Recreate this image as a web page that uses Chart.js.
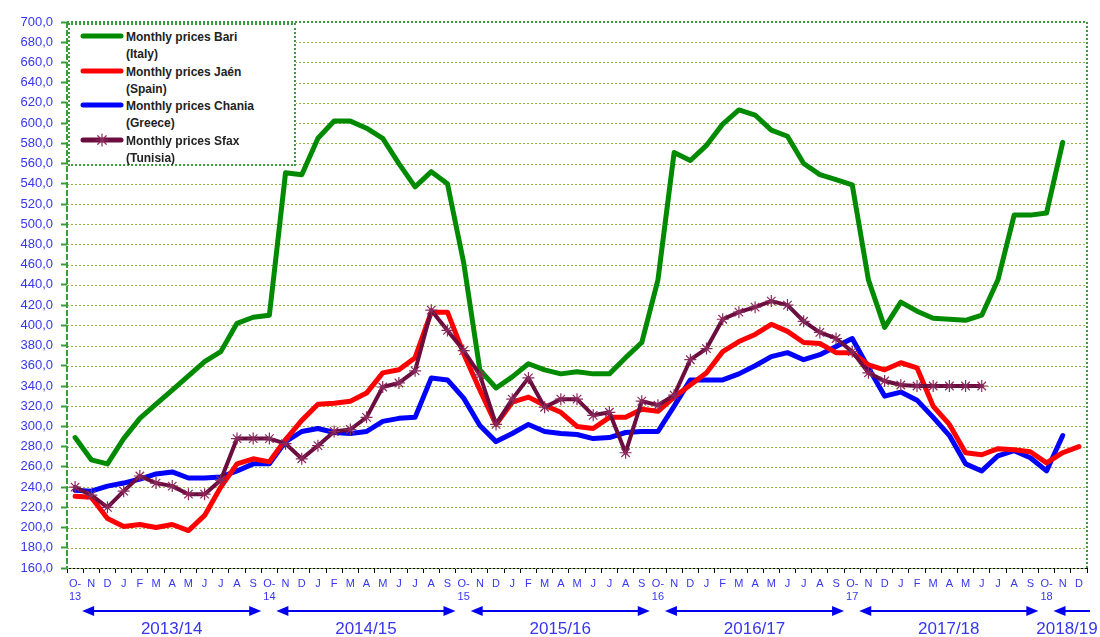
<!DOCTYPE html>
<html>
<head>
<meta charset="utf-8">
<script src="https://cdn.jsdelivr.net/npm/chart.js@4.4.1/dist/chart.umd.min.js"></script>
<style>
  html, body { margin: 0; padding: 0; background: #fff; }
  #wrap { position: relative; width: 1100px; height: 637px; }
  #legend {
    position: absolute; left: 68px; top: 23px; width: 224px; height: 139px;
    border: 2px dotted #3c9c3c; background: #fff;
    font-family: "Liberation Sans", Arial, sans-serif; font-weight: bold; font-size: 12px; color: #222;
  }
  .item { position: absolute; left: 0; width: 224px; height: 34px; }
  .item .txt { position: absolute; left: 56px; top: 4px; line-height: 17px; }
  .item canvas { position: absolute; left: 10px; top: 4px; }
</style>
</head>
<body>
<div id="wrap">
  <canvas id="chart" width="1100" height="637"></canvas>
  <div id="legend"></div>
</div>
<script>
const moisLettres = ['O', 'N', 'D', 'J', 'F', 'M', 'A', 'M', 'J', 'J', 'A', 'S'];
const annees = ['13', '14', '15', '16', '17', '18'];
const saisons = ['2013/14', '2014/15', '2015/16', '2016/17', '2017/18', '2018/19'];

// one category per month, Oct 2013 .. Dec 2018
const categories = [];
for (let i = 0; i < 63; i++) {
  const m = moisLettres[i % 12];
  categories.push(i % 12 === 0 ? ['O-', annees[i / 12]] : m);
}

const bari = [289, 267, 263, 288, 308, 322, 336, 350, 364, 374, 402, 408, 410,
  551, 549, 585, 602, 602, 595, 585, 560, 537, 552, 540,
  462, 356, 338, 349, 362, 356, 352, 354, 352, 352, 368, 383,
  445, 571, 563, 578, 599, 613, 608, 593, 587, 560, 549, 544,
  539, 445, 398, 423, 414, 407, 406, 405, 410, 445, 509, 509, 511, 581, null];

const jaen = [231, 230, 209, 201, 203, 200, 203, 197, 212, 240, 263, 268, 265,
  287, 306, 322, 323, 325, 333, 353, 356, 368, 413, 413,
  372, 336, 302, 324, 329, 321, 314, 300, 298, 309, 309, 317,
  315, 329, 341, 353, 374, 384, 391, 401, 394, 383, 382, 373,
  373, 361, 356, 363, 358, 320, 302, 274, 272, 278, 277, 275, 264, 274, 280];

const chania = [237, 236, 241, 244, 248, 253, 255, 249, 249, 250, 256, 263, 263,
  285, 295, 298, 294, 293, 295, 305, 308, 309, 348, 346,
  328, 301, 285, 293, 302, 295, 293, 292, 288, 289, 294, 295,
  295, 320, 346, 346, 346, 352, 360, 369, 373, 366, 371, 379,
  387, 358, 330, 334, 326, 309, 291, 263, 256, 271, 276, 269, 256, 291, null];

const sfax = [240, 232, 220, 236, 251, 244, 241, 233, 233, 247, 288, 288, 288,
  283, 268, 281, 295, 297, 309, 339, 343, 355, 415, 395,
  375, 351, 302, 327, 348, 319, 327, 327, 311, 314, 274, 325,
  321, 331, 366, 377, 406, 413, 418, 424, 420, 404, 393, 387,
  374, 353, 345, 341, 340, 340, 340, 340, 340, null, null, null, null, null, null];

const series = [
  { label: 'Monthly prices Bari', pays: '(Italy)', data: bari, color: '#008a00', order: 3 },
  { label: 'Monthly prices Jaén', pays: '(Spain)', data: jaen, color: '#ff0000', order: 1 },
  { label: 'Monthly prices Chania', pays: '(Greece)', data: chania, color: '#0000ff', order: 2 },
  { label: 'Monthly prices Sfax', pays: '(Tunisia)', data: sfax, color: '#6b0d3f', order: 0, star: true }
];

const BLEU = '#3636f0';

// dotted horizontal grid, drawn under the lines
const grille = {
  id: 'grille',
  beforeDatasetsDraw(chart) {
    const { ctx, chartArea: a, scales: { y } } = chart;
    ctx.save();
    ctx.strokeStyle = '#93b04a';
    ctx.lineWidth = 1;
    ctx.setLineDash([2, 2]);
    y.ticks.forEach(t => {
      const py = Math.round(y.getPixelForValue(t.value)) + 0.5;
      ctx.beginPath(); ctx.moveTo(a.left, py); ctx.lineTo(a.right, py); ctx.stroke();
    });
    ctx.restore();
  }
};

const cadre = {
  id: 'cadre',
  afterDraw(chart) {
    const { ctx, chartArea: a, scales: { x } } = chart;
    ctx.save();
    // frame
    ctx.strokeStyle = '#3c9c3c';
    ctx.lineWidth = 2;
    ctx.setLineDash([2, 2]);
    ctx.beginPath();
    ctx.moveTo(a.left, a.top); ctx.lineTo(a.right, a.top); ctx.lineTo(a.right, a.bottom);
    ctx.stroke();
    ctx.setLineDash([6, 2]);
    ctx.beginPath();
    ctx.moveTo(a.left, a.top); ctx.lineTo(a.left, a.bottom);
    ctx.stroke();
    ctx.setLineDash([]);
    // season arrows
    ctx.strokeStyle = '#0000ee';
    ctx.fillStyle = '#0000ee';
    ctx.lineWidth = 2;
    const yA = 611;
    saisons.forEach((s, k) => {
      const x1 = x.getPixelForValue(k * 12) + 7;
      const x2 = k < 5 ? x.getPixelForValue(k * 12 + 11) + 8 : 1090;
      ctx.beginPath(); ctx.moveTo(x1 + 6, yA); ctx.lineTo(x2 - (k < 5 ? 6 : 0), yA); ctx.stroke();
      ctx.beginPath(); ctx.moveTo(x1, yA); ctx.lineTo(x1 + 12, yA - 5); ctx.lineTo(x1 + 12, yA + 5); ctx.fill();
      if (k < 5) {
        ctx.beginPath(); ctx.moveTo(x2, yA); ctx.lineTo(x2 - 12, yA - 5); ctx.lineTo(x2 - 12, yA + 5); ctx.fill();
      }
      ctx.font = '17px "Liberation Sans", Arial, sans-serif';
      ctx.textAlign = 'center';
      ctx.textBaseline = 'middle';
      ctx.fillStyle = BLEU;
      ctx.fillText(s, k < 5 ? (x1 + x2) / 2 : 1067, 629);
      ctx.fillStyle = '#0000ee';
    });
    ctx.restore();
  }
};

const ctx = document.getElementById('chart').getContext('2d');
new Chart(ctx, {
  type: 'line',
  data: {
    labels: categories,
    datasets: series.map(s => ({
      label: s.label,
      data: s.data,
      borderColor: s.color,
      backgroundColor: s.color,
      borderWidth: s.star ? 4 : 5,
      borderJoinStyle: 'round',
      borderCapStyle: 'round',
      tension: 0,
      fill: false,
      order: s.order,
      pointStyle: s.star ? 'star' : 'circle',
      pointRadius: s.star ? 6 : 0,
      pointBorderColor: '#8a2a5c',
      pointBorderWidth: 1.2,
      pointHoverRadius: 0
    }))
  },
  options: {
    responsive: false,
    animation: false,
    layout: { padding: { top: 22, right: 13, left: 0, bottom: 0 } },
    plugins: { legend: { display: false }, tooltip: { enabled: false } },
    scales: {
      x: {
        offset: true,
        afterFit: sc => { sc.height = 69; },
        grid: { drawOnChartArea: false, offset: true, tickLength: 5, tickColor: '#000' },
        border: { color: '#000', width: 1 },
        ticks: {
          autoSkip: false, maxRotation: 0, padding: 4, color: BLEU,
          font: { family: '"Liberation Sans", Arial, sans-serif', size: 11 }
        }
      },
      y: {
        min: 160, max: 700,
        afterFit: sc => { sc.width = 67; },
        grid: { drawOnChartArea: false, tickLength: 6, tickColor: '#3c9c3c', tickWidth: 2 },
        border: { display: false },
        ticks: {
          stepSize: 20, padding: 8, color: BLEU,
          font: { family: '"Liberation Sans", Arial, sans-serif', size: 13 },
          callback: v => v.toFixed(1).replace('.', ',')
        }
      }
    }
  },
  plugins: [grille, cadre]
});

// legend
const leg = document.getElementById('legend');
series.forEach((s, k) => {
  const it = document.createElement('div');
  it.className = 'item';
  it.style.top = (k * 34.5) + 'px';
  const c = document.createElement('canvas');
  c.width = 44; c.height = 14;
  const g = c.getContext('2d');
  g.strokeStyle = s.color; g.lineWidth = 5; g.lineCap = 'round';
  g.beginPath(); g.moveTo(3, 7); g.lineTo(41, 7); g.stroke();
  if (s.star) {
    g.strokeStyle = '#8a2a5c'; g.lineWidth = 1.2;
    g.beginPath();
    for (let a = 0; a < 4; a++) {
      const t = a * Math.PI / 4;
      g.moveTo(22 - 6 * Math.cos(t), 7 - 6 * Math.sin(t));
      g.lineTo(22 + 6 * Math.cos(t), 7 + 6 * Math.sin(t));
    }
    g.stroke();
  }
  const t = document.createElement('div');
  t.className = 'txt';
  t.innerHTML = s.label + '<br>' + s.pays;
  it.appendChild(c);
  it.appendChild(t);
  leg.appendChild(it);
});
</script>
</body>
</html>
